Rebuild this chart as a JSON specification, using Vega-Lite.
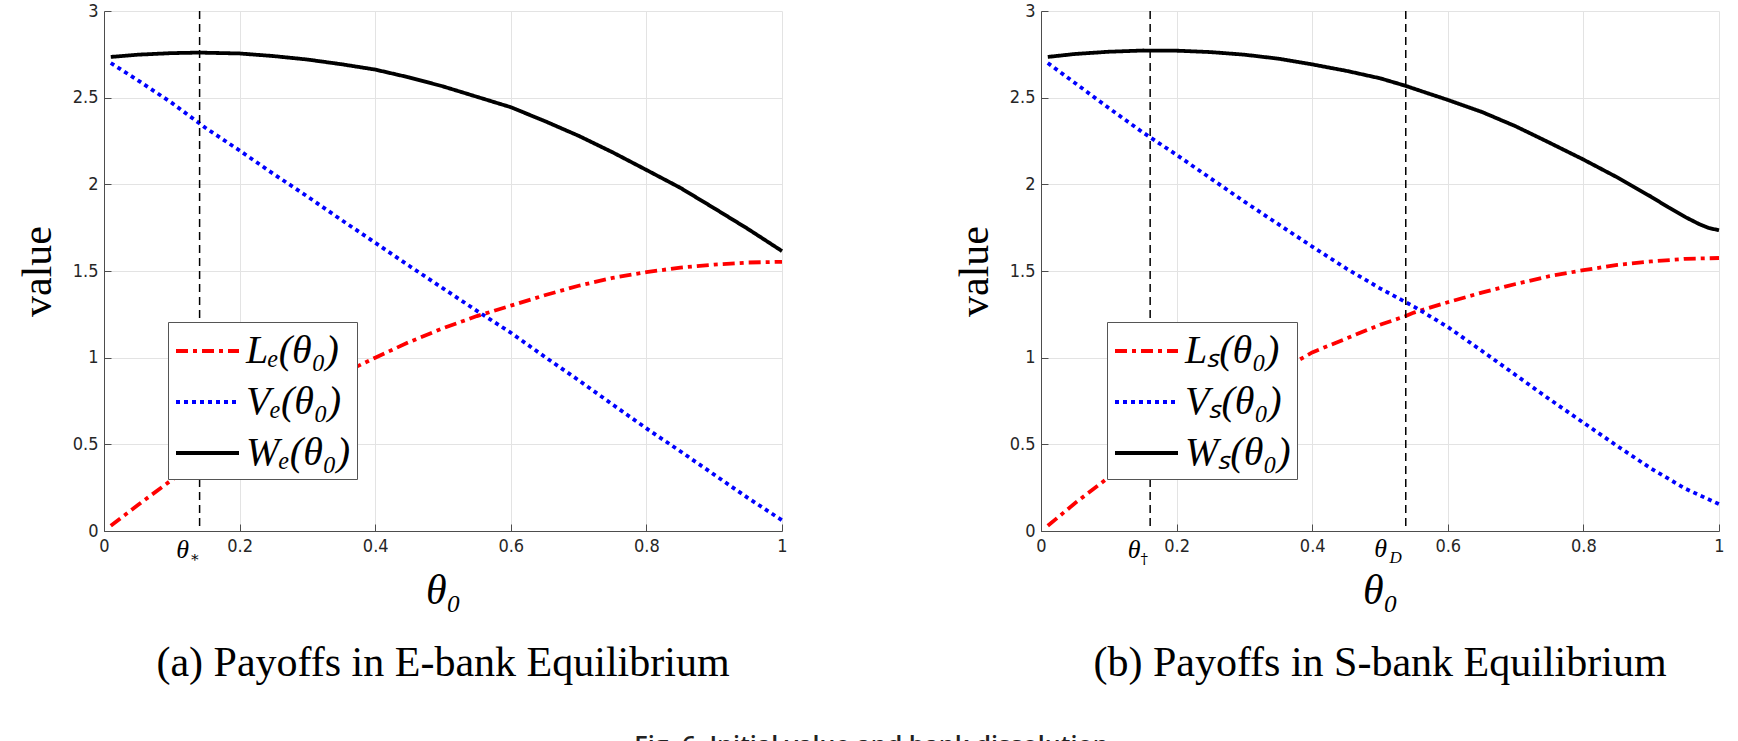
{
  "$schema": "https://vega.github.io/schema/vega-lite/v6.json",
  "background": "white",
  "padding": {"left": 16, "top": 2, "right": 8, "bottom": -12},
  "title": {"text": "Fig. 6. Initial value and bank dissolution", "orient": "bottom", "anchor": "middle", "offset": 50, "font": "Open Sans", "fontSize": 25, "fontWeight": 600, "color": "#222222"},
  "spacing": 163,
  "resolve": {"scale": {"color": "independent", "strokeDash": "independent"}, "legend": {"color": "independent", "strokeDash": "independent"}},
  "datasets": {
    "curvesE": [
      {"theta": 0.01, "value": 0.03, "series": "Lₑ(θ₀)"},
      {"theta": 0.05, "value": 0.15, "series": "Lₑ(θ₀)"},
      {"theta": 0.1, "value": 0.295, "series": "Lₑ(θ₀)"},
      {"theta": 0.15, "value": 0.43, "series": "Lₑ(θ₀)"},
      {"theta": 0.2, "value": 0.56, "series": "Lₑ(θ₀)"},
      {"theta": 0.25, "value": 0.68, "series": "Lₑ(θ₀)"},
      {"theta": 0.3, "value": 0.795, "series": "Lₑ(θ₀)"},
      {"theta": 0.35, "value": 0.905, "series": "Lₑ(θ₀)"},
      {"theta": 0.4, "value": 1.0, "series": "Lₑ(θ₀)"},
      {"theta": 0.45, "value": 1.09, "series": "Lₑ(θ₀)"},
      {"theta": 0.5, "value": 1.17, "series": "Lₑ(θ₀)"},
      {"theta": 0.55, "value": 1.24, "series": "Lₑ(θ₀)"},
      {"theta": 0.6, "value": 1.3, "series": "Lₑ(θ₀)"},
      {"theta": 0.65, "value": 1.36, "series": "Lₑ(θ₀)"},
      {"theta": 0.7, "value": 1.415, "series": "Lₑ(θ₀)"},
      {"theta": 0.75, "value": 1.46, "series": "Lₑ(θ₀)"},
      {"theta": 0.8, "value": 1.493, "series": "Lₑ(θ₀)"},
      {"theta": 0.85, "value": 1.52, "series": "Lₑ(θ₀)"},
      {"theta": 0.9, "value": 1.537, "series": "Lₑ(θ₀)"},
      {"theta": 0.95, "value": 1.549, "series": "Lₑ(θ₀)"},
      {"theta": 1.0, "value": 1.553, "series": "Lₑ(θ₀)"},
      {"theta": 0.01, "value": 2.7, "series": "Vₑ(θ₀)"},
      {"theta": 0.05, "value": 2.6, "series": "Vₑ(θ₀)"},
      {"theta": 0.1, "value": 2.47, "series": "Vₑ(θ₀)"},
      {"theta": 0.15, "value": 2.325, "series": "Vₑ(θ₀)"},
      {"theta": 0.2, "value": 2.195, "series": "Vₑ(θ₀)"},
      {"theta": 0.25, "value": 2.06, "series": "Vₑ(θ₀)"},
      {"theta": 0.3, "value": 1.93, "series": "Vₑ(θ₀)"},
      {"theta": 0.35, "value": 1.795, "series": "Vₑ(θ₀)"},
      {"theta": 0.4, "value": 1.663, "series": "Vₑ(θ₀)"},
      {"theta": 0.45, "value": 1.53, "series": "Vₑ(θ₀)"},
      {"theta": 0.5, "value": 1.4, "series": "Vₑ(θ₀)"},
      {"theta": 0.55, "value": 1.27, "series": "Vₑ(θ₀)"},
      {"theta": 0.6, "value": 1.144, "series": "Vₑ(θ₀)"},
      {"theta": 0.65, "value": 1.005, "series": "Vₑ(θ₀)"},
      {"theta": 0.7, "value": 0.87, "series": "Vₑ(θ₀)"},
      {"theta": 0.75, "value": 0.73, "series": "Vₑ(θ₀)"},
      {"theta": 0.8, "value": 0.592, "series": "Vₑ(θ₀)"},
      {"theta": 0.85, "value": 0.46, "series": "Vₑ(θ₀)"},
      {"theta": 0.9, "value": 0.325, "series": "Vₑ(θ₀)"},
      {"theta": 0.95, "value": 0.19, "series": "Vₑ(θ₀)"},
      {"theta": 1.0, "value": 0.062, "series": "Vₑ(θ₀)"},
      {"theta": 0.01, "value": 2.735, "series": "Wₑ(θ₀)"},
      {"theta": 0.05, "value": 2.748, "series": "Wₑ(θ₀)"},
      {"theta": 0.1, "value": 2.757, "series": "Wₑ(θ₀)"},
      {"theta": 0.14, "value": 2.76, "series": "Wₑ(θ₀)"},
      {"theta": 0.2, "value": 2.755, "series": "Wₑ(θ₀)"},
      {"theta": 0.25, "value": 2.74, "series": "Wₑ(θ₀)"},
      {"theta": 0.3, "value": 2.72, "series": "Wₑ(θ₀)"},
      {"theta": 0.35, "value": 2.693, "series": "Wₑ(θ₀)"},
      {"theta": 0.4, "value": 2.662, "series": "Wₑ(θ₀)"},
      {"theta": 0.45, "value": 2.617, "series": "Wₑ(θ₀)"},
      {"theta": 0.5, "value": 2.565, "series": "Wₑ(θ₀)"},
      {"theta": 0.55, "value": 2.505, "series": "Wₑ(θ₀)"},
      {"theta": 0.6, "value": 2.445, "series": "Wₑ(θ₀)"},
      {"theta": 0.65, "value": 2.365, "series": "Wₑ(θ₀)"},
      {"theta": 0.7, "value": 2.28, "series": "Wₑ(θ₀)"},
      {"theta": 0.75, "value": 2.185, "series": "Wₑ(θ₀)"},
      {"theta": 0.8, "value": 2.083, "series": "Wₑ(θ₀)"},
      {"theta": 0.85, "value": 1.98, "series": "Wₑ(θ₀)"},
      {"theta": 0.9, "value": 1.862, "series": "Wₑ(θ₀)"},
      {"theta": 0.95, "value": 1.742, "series": "Wₑ(θ₀)"},
      {"theta": 1.0, "value": 1.615, "series": "Wₑ(θ₀)"}
    ],
    "curvesS": [
      {"theta": 0.01, "value": 0.03, "series": "Lₛ(θ₀)"},
      {"theta": 0.05, "value": 0.16, "series": "Lₛ(θ₀)"},
      {"theta": 0.1, "value": 0.31, "series": "Lₛ(θ₀)"},
      {"theta": 0.15, "value": 0.45, "series": "Lₛ(θ₀)"},
      {"theta": 0.2, "value": 0.58, "series": "Lₛ(θ₀)"},
      {"theta": 0.25, "value": 0.7, "series": "Lₛ(θ₀)"},
      {"theta": 0.3, "value": 0.81, "series": "Lₛ(θ₀)"},
      {"theta": 0.35, "value": 0.92, "series": "Lₛ(θ₀)"},
      {"theta": 0.4, "value": 1.03, "series": "Lₛ(θ₀)"},
      {"theta": 0.45, "value": 1.11, "series": "Lₛ(θ₀)"},
      {"theta": 0.5, "value": 1.19, "series": "Lₛ(θ₀)"},
      {"theta": 0.538, "value": 1.24, "series": "Lₛ(θ₀)"},
      {"theta": 0.55, "value": 1.26, "series": "Lₛ(θ₀)"},
      {"theta": 0.6, "value": 1.32, "series": "Lₛ(θ₀)"},
      {"theta": 0.65, "value": 1.375, "series": "Lₛ(θ₀)"},
      {"theta": 0.7, "value": 1.425, "series": "Lₛ(θ₀)"},
      {"theta": 0.75, "value": 1.47, "series": "Lₛ(θ₀)"},
      {"theta": 0.8, "value": 1.505, "series": "Lₛ(θ₀)"},
      {"theta": 0.85, "value": 1.535, "series": "Lₛ(θ₀)"},
      {"theta": 0.9, "value": 1.555, "series": "Lₛ(θ₀)"},
      {"theta": 0.95, "value": 1.57, "series": "Lₛ(θ₀)"},
      {"theta": 1.0, "value": 1.575, "series": "Lₛ(θ₀)"},
      {"theta": 0.01, "value": 2.7, "series": "Vₛ(θ₀)"},
      {"theta": 0.05, "value": 2.585, "series": "Vₛ(θ₀)"},
      {"theta": 0.1, "value": 2.44, "series": "Vₛ(θ₀)"},
      {"theta": 0.15, "value": 2.3, "series": "Vₛ(θ₀)"},
      {"theta": 0.2, "value": 2.17, "series": "Vₛ(θ₀)"},
      {"theta": 0.25, "value": 2.035, "series": "Vₛ(θ₀)"},
      {"theta": 0.3, "value": 1.9, "series": "Vₛ(θ₀)"},
      {"theta": 0.35, "value": 1.77, "series": "Vₛ(θ₀)"},
      {"theta": 0.4, "value": 1.641, "series": "Vₛ(θ₀)"},
      {"theta": 0.45, "value": 1.515, "series": "Vₛ(θ₀)"},
      {"theta": 0.5, "value": 1.4, "series": "Vₛ(θ₀)"},
      {"theta": 0.538, "value": 1.32, "series": "Vₛ(θ₀)"},
      {"theta": 0.55, "value": 1.295, "series": "Vₛ(θ₀)"},
      {"theta": 0.6, "value": 1.177, "series": "Vₛ(θ₀)"},
      {"theta": 0.65, "value": 1.04, "series": "Vₛ(θ₀)"},
      {"theta": 0.7, "value": 0.9, "series": "Vₛ(θ₀)"},
      {"theta": 0.75, "value": 0.76, "series": "Vₛ(θ₀)"},
      {"theta": 0.8, "value": 0.625, "series": "Vₛ(θ₀)"},
      {"theta": 0.85, "value": 0.49, "series": "Vₛ(θ₀)"},
      {"theta": 0.9, "value": 0.36, "series": "Vₛ(θ₀)"},
      {"theta": 0.95, "value": 0.245, "series": "Vₛ(θ₀)"},
      {"theta": 1.0, "value": 0.155, "series": "Vₛ(θ₀)"},
      {"theta": 0.01, "value": 2.735, "series": "Wₛ(θ₀)"},
      {"theta": 0.05, "value": 2.752, "series": "Wₛ(θ₀)"},
      {"theta": 0.1, "value": 2.765, "series": "Wₛ(θ₀)"},
      {"theta": 0.15, "value": 2.772, "series": "Wₛ(θ₀)"},
      {"theta": 0.2, "value": 2.771, "series": "Wₛ(θ₀)"},
      {"theta": 0.25, "value": 2.763, "series": "Wₛ(θ₀)"},
      {"theta": 0.3, "value": 2.748, "series": "Wₛ(θ₀)"},
      {"theta": 0.35, "value": 2.725, "series": "Wₛ(θ₀)"},
      {"theta": 0.4, "value": 2.692, "series": "Wₛ(θ₀)"},
      {"theta": 0.45, "value": 2.655, "series": "Wₛ(θ₀)"},
      {"theta": 0.5, "value": 2.612, "series": "Wₛ(θ₀)"},
      {"theta": 0.538, "value": 2.568, "series": "Wₛ(θ₀)"},
      {"theta": 0.55, "value": 2.552, "series": "Wₛ(θ₀)"},
      {"theta": 0.6, "value": 2.487, "series": "Wₛ(θ₀)"},
      {"theta": 0.65, "value": 2.418, "series": "Wₛ(θ₀)"},
      {"theta": 0.7, "value": 2.335, "series": "Wₛ(θ₀)"},
      {"theta": 0.75, "value": 2.24, "series": "Wₛ(θ₀)"},
      {"theta": 0.8, "value": 2.143, "series": "Wₛ(θ₀)"},
      {"theta": 0.85, "value": 2.04, "series": "Wₛ(θ₀)"},
      {"theta": 0.9, "value": 1.928, "series": "Wₛ(θ₀)"},
      {"theta": 0.925, "value": 1.868, "series": "Wₛ(θ₀)"},
      {"theta": 0.95, "value": 1.812, "series": "Wₛ(θ₀)"},
      {"theta": 0.97, "value": 1.772, "series": "Wₛ(θ₀)"},
      {"theta": 0.985, "value": 1.748, "series": "Wₛ(θ₀)"},
      {"theta": 1.0, "value": 1.735, "series": "Wₛ(θ₀)"}
    ],
    "threshE": [
      {"theta": 0.141, "sym": "θ", "sub": "∗", "kind": "star"}
    ],
    "threshS": [
      {"theta": 0.161, "sym": "θ", "sub": "†", "kind": "dagger"},
      {"theta": 0.538, "sym": "θ", "sub": "D", "kind": "D"}
    ]
  },
  "hconcat": [
    {
      "width": 678,
      "height": 520,
      "title": {"text": "(a) Payoffs in E-bank Equilibrium", "orient": "bottom", "anchor": "middle", "offset": 32},
      "encoding": {
        "x": {"field": "theta", "type": "quantitative", "scale": {"domain": [0, 1]},
              "axis": {"values": [0, 0.2, 0.4, 0.6, 0.8, 1], "format": "~g", "title": "θ₀"}}
      },
      "layer": [
        {
          "data": {"name": "curvesE"},
          "mark": {"type": "line", "strokeWidth": 3.8, "strokeCap": "butt"},
          "encoding": {
            "y": {"field": "value", "type": "quantitative", "scale": {"domain": [0, 3]},
                  "axis": {"values": [0, 0.5, 1, 1.5, 2, 2.5, 3], "format": "~g", "title": "value"}},
            "color": {"field": "series", "type": "nominal",
                      "scale": {"domain": ["Lₑ(θ₀)", "Vₑ(θ₀)", "Wₑ(θ₀)"], "range": ["#ff0000", "#0000ff", "#000000"]},
                      "legend": {"orient": "none", "legendX": 64, "legendY": 311}},
            "strokeDash": {"field": "series", "type": "nominal",
                      "scale": {"domain": ["Lₑ(θ₀)", "Vₑ(θ₀)", "Wₑ(θ₀)"], "range": [[12, 5, 4, 5], [4, 4], [1, 0]]},
                      "legend": {"orient": "none", "legendX": 64, "legendY": 311}}
          }
        },
        {
          "data": {"name": "threshE"},
          "mark": {"type": "rule", "color": "#000000", "strokeWidth": 1.5, "strokeDash": [8, 5]},
          "encoding": {}
        },
        {
          "data": {"name": "threshE"},
          "mark": {"type": "text", "font": "Liberation Serif", "fontStyle": "italic", "fontSize": 26, "baseline": "middle", "align": "center", "dx": -17, "dy": 19},
          "encoding": {"y": {"datum": 0, "type": "quantitative"}, "text": {"field": "sym"}}
        },
        {
          "data": {"name": "threshE"},
          "mark": {"type": "text", "font": "DejaVu Serif", "fontSize": 15, "baseline": "middle", "align": "center", "dx": -5, "dy": 26},
          "encoding": {"y": {"datum": 0, "type": "quantitative"}, "text": {"field": "sub"}}
        }
      ]
    },
    {
      "width": 678,
      "height": 520,
      "title": {"text": "(b) Payoffs in S-bank Equilibrium", "orient": "bottom", "anchor": "middle", "offset": 32},
      "encoding": {
        "x": {"field": "theta", "type": "quantitative", "scale": {"domain": [0, 1]},
              "axis": {"values": [0, 0.2, 0.4, 0.6, 0.8, 1], "format": "~g", "title": "θ₀"}}
      },
      "layer": [
        {
          "data": {"name": "curvesS"},
          "mark": {"type": "line", "strokeWidth": 3.8, "strokeCap": "butt"},
          "encoding": {
            "y": {"field": "value", "type": "quantitative", "scale": {"domain": [0, 3]},
                  "axis": {"values": [0, 0.5, 1, 1.5, 2, 2.5, 3], "format": "~g", "title": "value"}},
            "color": {"field": "series", "type": "nominal",
                      "scale": {"domain": ["Lₛ(θ₀)", "Vₛ(θ₀)", "Wₛ(θ₀)"], "range": ["#ff0000", "#0000ff", "#000000"]},
                      "legend": {"orient": "none", "legendX": 66, "legendY": 311}},
            "strokeDash": {"field": "series", "type": "nominal",
                      "scale": {"domain": ["Lₛ(θ₀)", "Vₛ(θ₀)", "Wₛ(θ₀)"], "range": [[12, 5, 4, 5], [4, 4], [1, 0]]},
                      "legend": {"orient": "none", "legendX": 66, "legendY": 311}}
          }
        },
        {
          "data": {"name": "threshS"},
          "mark": {"type": "rule", "color": "#000000", "strokeWidth": 1.5, "strokeDash": [8, 5]},
          "encoding": {}
        },
        {
          "data": {"name": "threshS"},
          "transform": [{"filter": "datum.kind == 'dagger'"}],
          "mark": {"type": "text", "font": "Liberation Serif", "fontStyle": "italic", "fontSize": 26, "baseline": "middle", "align": "center", "dx": -16, "dy": 19},
          "encoding": {"y": {"datum": 0, "type": "quantitative"}, "text": {"field": "sym"}}
        },
        {
          "data": {"name": "threshS"},
          "transform": [{"filter": "datum.kind == 'dagger'"}],
          "mark": {"type": "text", "font": "DejaVu Serif", "fontSize": 15, "baseline": "middle", "align": "center", "dx": -6, "dy": 28},
          "encoding": {"y": {"datum": 0, "type": "quantitative"}, "text": {"field": "sub"}}
        },
        {
          "data": {"name": "threshS"},
          "transform": [{"filter": "datum.kind == 'D'"}],
          "mark": {"type": "text", "font": "Liberation Serif", "fontStyle": "italic", "fontSize": 26, "baseline": "middle", "align": "center", "dx": -25, "dy": 18},
          "encoding": {"y": {"datum": 0, "type": "quantitative"}, "text": {"field": "sym"}}
        },
        {
          "data": {"name": "threshS"},
          "transform": [{"filter": "datum.kind == 'D'"}],
          "mark": {"type": "text", "font": "Liberation Serif", "fontStyle": "italic", "fontSize": 17, "baseline": "middle", "align": "center", "dx": -10, "dy": 27},
          "encoding": {"y": {"datum": 0, "type": "quantitative"}, "text": {"field": "sub"}}
        }
      ]
    }
  ],
  "config": {
    "view": {"stroke": null},
    "axis": {
      "grid": true, "gridColor": "#e3e3e3", "gridWidth": 1,
      "domainColor": "#4d4d4d", "domainWidth": 1,
      "tickColor": "#4d4d4d", "tickSize": -7, "tickWidth": 1,
      "labelFont": "Liberation Sans Narrow, DejaVu Sans Condensed, Liberation Sans",
      "labelFontSize": 18, "labelColor": "#262626", "labelPadding": 13, "labelFlush": false,
      "titleFont": "Liberation Serif", "titleFontSize": 42, "titleFontWeight": "normal", "titleColor": "#000000"
    },
    "axisX": {"titlePadding": 15, "titleFontStyle": "italic"},
    "axisY": {"titlePadding": 13},
    "legend": {
      "title": null,
      "symbolType": "M-1,0H2",
      "symbolSize": 1764,
      "symbolStrokeWidth": 4,
      "labelFont": "Liberation Serif",
      "labelFontStyle": "italic",
      "labelFontSize": 40,
      "labelColor": "#000000",
      "labelOffset": 26,
      "labelLimit": 400,
      "rowPadding": 8,
      "padding": 6,
      "strokeColor": "#555555",
      "fillColor": "#ffffff"
    },
    "title": {"font": "Liberation Serif", "fontSize": 42, "fontWeight": "normal", "color": "#000000"}
  }
}
